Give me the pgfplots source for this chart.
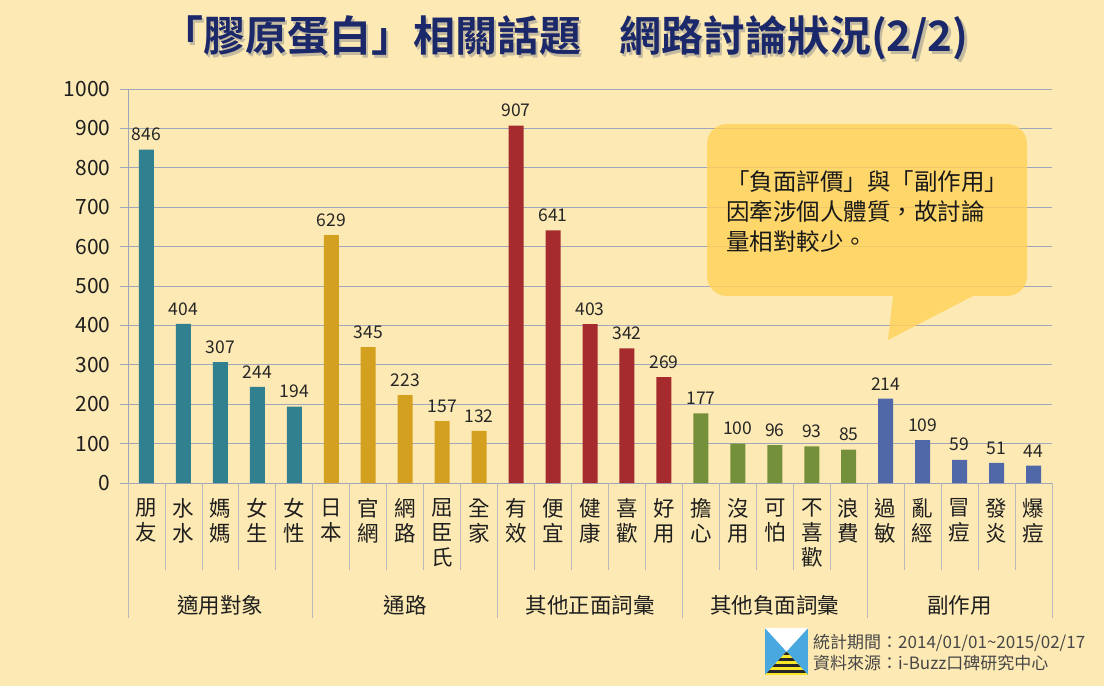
\documentclass[border=0pt]{standalone}
\usepackage{pgfplots}
\pgfplotsset{compat=1.18}
\usepackage{fontspec}
\setmainfont{Noto Sans CJK TC}[BoldFont={Noto Sans CJK TC Bold}]
\definecolor{bgc}{RGB}{253,233,179}
\definecolor{gridc}{RGB}{160,165,184}
\definecolor{sepc}{RGB}{185,185,185}
\definecolor{titlec}{RGB}{27,40,105}
\definecolor{callc}{RGB}{255,210,90}
\definecolor{cteal}{RGB}{49,128,143}
\definecolor{cgold}{RGB}{212,160,32}
\definecolor{cred}{RGB}{165,43,47}
\definecolor{cgreen}{RGB}{117,144,58}
\definecolor{cblue}{RGB}{80,104,168}
\definecolor{logob}{RGB}{74,168,224}
\definecolor{logoy}{RGB}{250,230,40}

\begin{document}
\begin{tikzpicture}
\begin{scope}[x=1pt,y=1pt]
\fill[bgc] (0,0) rectangle (1104,686);
\path[use as bounding box] (0,0) rectangle (1104,686);
% title with a soft shadow
\node[text=black!45, opacity=0.5] at (567.5,645.5)
  {\fontsize{42}{46}\selectfont\bfseries 「膠原蛋白」相關話題\hspace{0.9em}網路討論狀況(2/2)};
\node[text=titlec] at (565,648)
  {\fontsize{42}{46}\selectfont\bfseries 「膠原蛋白」相關話題\hspace{0.9em}網路討論狀況(2/2)};
\end{scope}

\begin{axis}[
    at={(128pt,203pt)}, anchor=south west,
    scale only axis, width=924pt, height=394pt,
    xmin=-0.5, xmax=24.5, ymin=0, ymax=1000,
    axis x line*=bottom, axis y line*=left,
    axis line style={draw=gridc, line width=0.8pt, -},
    ytick={0,100,...,1000},
    ymajorgrids, grid style={draw=gridc, line width=0.7pt},
    tick align=outside, major tick length=8pt,
    ytick style={draw=gridc, line width=0.7pt},
    xtick style={draw=none},
    /pgf/number format/assume math mode=true,
    /pgf/number format/1000 sep={},
    yticklabel style={font=\fontsize{21}{24}\selectfont, text=black!88, xshift=-6pt},
    xtick={0,...,24},
    xticklabels={{朋\\友},{水\\水},{媽\\媽},{女\\生},{女\\性},
                 {日\\本},{官\\網},{網\\路},{屈\\臣\\氏},{全\\家},
                 {有\\效},{便\\宜},{健\\康},{喜\\歡},{好\\用},
                 {擔\\心},{沒\\用},{可\\怕},{不\\喜\\歡},{浪\\費},
                 {過\\敏},{亂\\經},{冒\\痘},{發\\炎},{爆\\痘}},
    xticklabel style={anchor=north, yshift=-4pt, align=center,
                      font=\fontsize{21.5}{25}\selectfont, text=black!88},
    clip=false,
    bar width=15pt,
    nodes near coords,
    every node near coord/.append style={font=\fontsize{17.5}{20}\selectfont,
                                         text=black!85, yshift=5pt},
]
\addplot[ybar, bar shift=0pt, fill=cteal, draw=none]
  coordinates {(0,846) (1,404) (2,307) (3,244) (4,194)};
\addplot[ybar, bar shift=0pt, fill=cgold, draw=none]
  coordinates {(5,629) (6,345) (7,223) (8,157) (9,132)};
\addplot[ybar, bar shift=0pt, fill=cred, draw=none]
  coordinates {(10,907) (11,641) (12,403) (13,342) (14,269)};
\addplot[ybar, bar shift=0pt, fill=cgreen, draw=none]
  coordinates {(15,177) (16,100) (17,96) (18,93) (19,85)};
\addplot[ybar, bar shift=0pt, fill=cblue, draw=none]
  coordinates {(20,214) (21,109) (22,59) (23,51) (24,44)};

% category separators and group separators
\pgfplotsinvokeforeach{0.5,1.5,2.5,3.5,5.5,6.5,7.5,8.5,10.5,11.5,12.5,13.5,15.5,16.5,17.5,18.5,20.5,21.5,22.5,23.5}{
  \draw[sepc, line width=0.8pt] (axis cs:#1,0) -- ++(0pt,-87pt);
}
\pgfplotsinvokeforeach{-0.5,4.5,9.5,14.5,19.5,24.5}{
  \draw[sepc, line width=0.8pt] (axis cs:#1,0) -- ++(0pt,-135pt);
}
\node[font=\fontsize{21.5}{24}\selectfont, text=black!88, yshift=-122pt] at (axis cs:2,0) {適用對象};
\node[font=\fontsize{21.5}{24}\selectfont, text=black!88, yshift=-122pt] at (axis cs:7,0) {通路};
\node[font=\fontsize{21.5}{24}\selectfont, text=black!88, yshift=-122pt] at (axis cs:12,0) {其他正面詞彙};
\node[font=\fontsize{21.5}{24}\selectfont, text=black!88, yshift=-122pt] at (axis cs:17,0) {其他負面詞彙};
\node[font=\fontsize{21.5}{24}\selectfont, text=black!88, yshift=-122pt] at (axis cs:22,0) {副作用};
\end{axis}

\begin{scope}[x=1pt,y=1pt]
% callout
\fill[callc, fill opacity=0.82, rounded corners=20pt] (707,390) rectangle (1027,562);
\fill[callc, fill opacity=0.82] (893,390) -- (973,390) -- (888,346) -- cycle;
\node[anchor=west, align=left, inner sep=0pt, text=black!90,
      font=\fontsize{23.5}{30}\selectfont] at (726,474)
  {「負面評價」與「副作用」\\因牽涉個人體質，故討論\\量相對較少。};
% footer logo
\fill[logob] (765,11) rectangle (808,58);
\fill[white] (765,58) -- (808,58) -- (786.5,34.5) -- cycle;
\begin{scope}
  \clip (765,11) -- (808,11) -- (786.5,34.5) -- cycle;
  \fill[logoy] (765,11) rectangle (808,35);
  \foreach \yy in {13,19,25,31}{ \fill[black!85] (765,\yy) rectangle (808,\yy+3); }
\end{scope}
\node[anchor=west, inner sep=0pt, text=black!72, font=\fontsize{17}{20}\selectfont]
  at (813,43) {統計期間：2014/01/01\textasciitilde 2015/02/17};
\node[anchor=west, inner sep=0pt, text=black!72, font=\fontsize{17}{20}\selectfont]
  at (813,23) {資料來源：i-Buzz口碑研究中心};
\end{scope}
\end{tikzpicture}
\end{document}
